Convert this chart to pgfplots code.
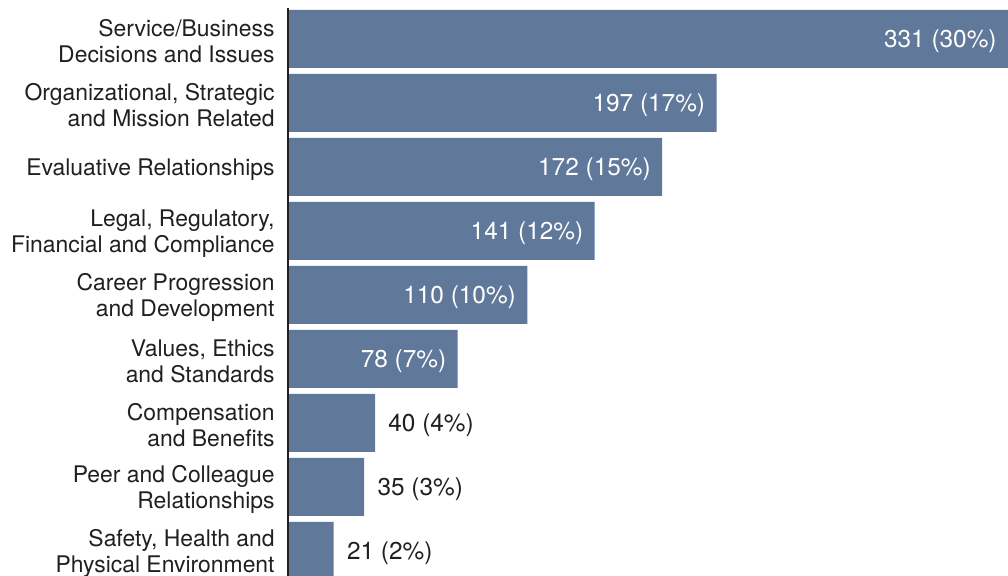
\documentclass[border=0pt]{standalone}
\usepackage{pgfplots}
\pgfplotsset{compat=1.18}
\usepackage{fontspec}
\setmainfont{TeX Gyre Heros}
\definecolor{barblue}{HTML}{60789A}
\definecolor{txt}{HTML}{231F20}
\begin{document}
\begin{tikzpicture}
\begin{axis}[
    name=a,
    scale only axis,
    width=360pt, height=290.7pt,
    xmin=0, xmax=331,
    ymin=-0.6, ymax=8.484,
    xbar, bar width=29pt, bar shift=0pt,
    axis on top,
    axis x line=none,
    axis y line*=left,
    y axis line style={txt, line width=0.7pt},
    ytick={0,...,8},
    yticklabels={
        {Safety, Health and\\Physical Environment},
        {Peer and Colleague\\Relationships},
        {Compensation\\and Benefits},
        {Values, Ethics\\and Standards},
        {Career Progression\\and Development},
        {Legal, Regulatory,\\Financial and Compliance},
        {Evaluative Relationships},
        {Organizational, Strategic\\and Mission Related},
        {Service/Business\\Decisions and Issues}},
    major tick length=0pt,
    yticklabel style={align=right, text=txt, inner sep=0pt, xshift=-6.5pt,
        yshift=-1.2pt, font=\fontsize{11.45}{13.2}\selectfont},
    point meta=explicit symbolic,
    nodes near coords,
    every node near coord/.append style={inner sep=0pt, yshift=-1.2pt,
        font=\fontsize{12.2}{14}\selectfont},
]
% bars with the figure inside
\addplot[fill=barblue, draw=none,
    every node near coord/.append style={anchor=east, text=white, xshift=-5.5pt}]
    coordinates {
    (331,8) [331 (30\%)]
    (197,7) [197 (17\%)]
    (172,6) [172 (15\%)]
    (141,5) [141 (12\%)]
    (110,4) [110 (10\%)]
    (78,3) [78 (7\%)]
};
% short bars, figure outside
\addplot[fill=barblue, draw=none,
    every node near coord/.append style={anchor=west, text=txt, xshift=6.5pt}]
    coordinates {
    (40,2) [40 (4\%)]
    (35,1) [35 (3\%)]
    (21,0) [21 (2\%)]
};
\end{axis}
\pgfresetboundingbox
\path[use as bounding box] ([xshift=-144pt, yshift=4pt]a.north west)
    rectangle ([yshift=-283.5pt]a.north east);
\end{tikzpicture}
\end{document}
